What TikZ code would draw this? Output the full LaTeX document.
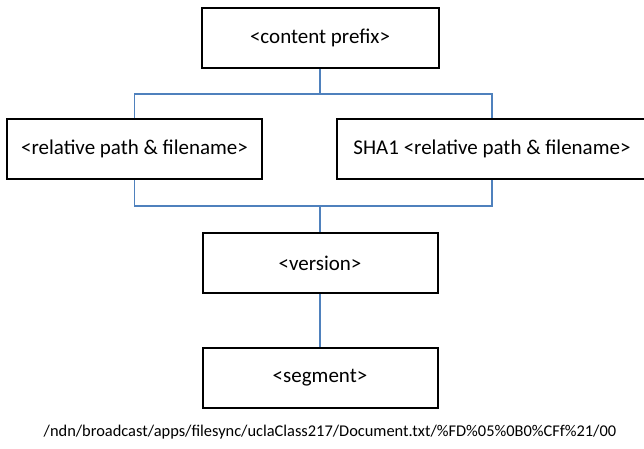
\documentclass[tikz,border=0pt]{standalone}
\usepackage{fontspec}
\setmainfont{Carlito}
\usetikzlibrary{positioning,calc}
\definecolor{linkblue}{HTML}{4F81BD}
\tikzset{
  box/.style={draw, line width=2pt, inner sep=0pt, minimum height=60pt, font=\fontsize{21}{25}\selectfont},
  link/.style={draw=linkblue, line width=1.4pt}
}
\newcommand{\bnode}[4]{\node [box, minimum width=#3] (#1) at (#2) {#4}}

\begin{document}
\begin{tikzpicture}[x=1pt,y=-1pt]
\useasboundingbox (0,0) rectangle (644,448);

\bnode{PFX}{320,38}{237pt}{<content prefix>};
\bnode{REL}{134.5,149}{255pt}{<relative path \& filename>};
\bnode{SHA}{492,149}{310pt}{SHA1 <relative path \& filename>};
\bnode{VER}{320,263}{235pt}{<version>};
\bnode{SEG}{320,378}{235pt}{<segment>};

\coordinate (TOP) at (320,94);
\coordinate (BOT) at (320,206);

\draw[link] (PFX) -- (TOP);
\draw[link] (REL) |- (TOP) -| (SHA);
\draw[link] (REL) |- (BOT) -| (SHA);
\draw[link] (BOT) -- (VER);
\draw[link] (VER) -- (SEG);

\node [font=\fontsize{16.4}{20}\selectfont] (PATH) at (330,432) {/ndn/broadcast/apps/filesync/uclaClass217/Document.txt/\%FD\%05\%0B0\%CFf\%21/00};

\end{tikzpicture}
\end{document}
